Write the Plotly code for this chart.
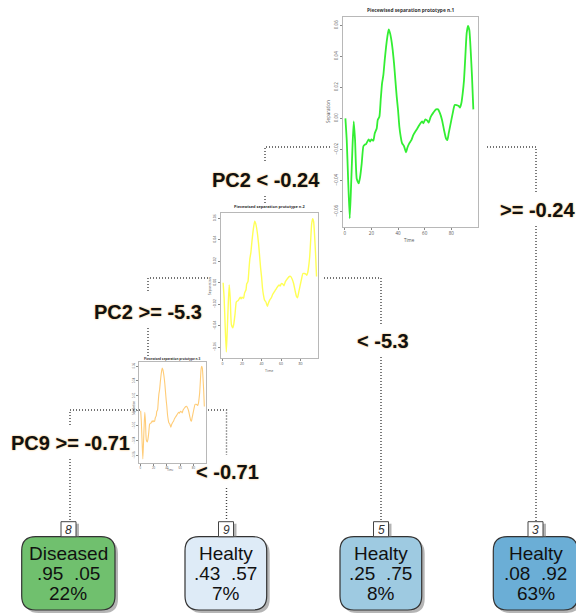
import plotly.graph_objects as go

W, H = 576, 613

# ------------------------------------------------------------------ data
# prototype separation curve (time, separation)
proto_time = [0.5, 1.5, 2.5, 3.75, 4.75, 5.75, 6.75, 7.75, 9, 10.5, 11.5, 12.75, 14, 15, 16,
              17, 18, 19, 20, 21.5, 22.5, 24, 24.75, 26, 27, 28, 29, 30, 31, 32, 33, 34, 35,
              36, 37, 38, 39, 40, 41, 42, 43, 44.5, 46, 47, 48.5, 50, 51.5, 53, 54.5, 56, 57,
              58, 59, 60.5, 62, 63, 64.5, 66.5, 68.5, 70, 71.5, 73, 74.5, 76, 77, 78, 79.5,
              81, 82.5, 84, 85.5, 86.5, 87.5, 88.5, 89.5, 90.5, 91.5, 92.5, 93.5, 94.5, 95.5,
              96.5]
proto_sep = [0.000, -0.014, -0.038, -0.0645, -0.044, -0.020, -0.002, -0.014, -0.039, -0.042,
             -0.038, -0.029, -0.018, -0.017, -0.0166, -0.015, -0.0135, -0.015, -0.0135, -0.0144,
             -0.0097, -0.0065, -0.001, 0.001, 0.012, 0.0226, 0.028, 0.0376, 0.046, 0.0527,
             0.0574, 0.055, 0.0505, 0.044, 0.0355, 0.0247, 0.014, 0.0054, -0.0054, -0.0118,
             -0.016, -0.018, -0.022, -0.019, -0.016, -0.014, -0.0107, -0.0085, -0.0065,
             -0.0043, -0.003, -0.002, -0.0032, -0.0006, -0.0015, -0.0028, 0.001, 0.0037,
             0.0058, 0.0058, 0.0032, -0.001, -0.0075, -0.013, -0.014, -0.0097, -0.0032,
             0.0032, 0.0086, 0.0086, 0.008, 0.007, 0.0097, 0.016, 0.0247, 0.040, 0.055,
             0.0596, 0.057, 0.044, 0.027, 0.0058]
proto_titles = ["Piecewised separation prototype n.1",
                "Piecewised separation prototype n.2",
                "Piecewised separation prototype n.3"]
inset_x_ticks = [0, 20, 40, 60, 80]
inset_y_ticks = [-0.06, -0.04, -0.02, 0.0, 0.02, 0.04, 0.06]

split_labels = ["PC2 < -0.24", ">= -0.24", "PC2 >= -5.3", "< -5.3", "PC9 >= -0.71", "< -0.71"]

leaf_ids = ["8", "9", "5", "3"]
leaf_class = ["Diseased", "Healty", "Healty", "Healty"]
leaf_p_diseased = [".95", ".43", ".25", ".08"]
leaf_p_healty = [".05", ".57", ".75", ".92"]
leaf_share = ["22%", "7%", "8%", "63%"]

# ------------------------------------------------------------------ layout / style
INSET_BOX = [(343, 17, 478, 227), (220.7, 212.5, 318, 358), (139, 362, 206, 463)]
INSET_XRANGE = [[-1.3, 100], [-2, 98], [-2, 99]]
INSET_YRANGE = [[-0.0701, 0.0654], [-0.0701, 0.0654], [-0.0701, 0.0654]]
INSET_COLOR = ["#33ee33", "#ffff55", "#ffcc77"]
INSET_LW = [1.8, 1.4, 1.1]
INSET_FS = [4.5, 3.6, 2.8]
INSET_TITLE_POS = [(410.5, 10), (269.5, 206.5), (172.5, 358.5)]
INSET_XLAB_POS = [(409, 239.5), (269.3, 370), (170, 469.5)]
INSET_YLAB_POS = [(328, 112), (209.5, 286.7), (134, 408)]

CONNECTORS = [
    [(330, 147), (265, 147), (265, 162)], [(265, 196), (265, 205)],
    [(487, 147), (536, 147), (536, 193)], [(536, 226), (536, 521)],
    [(208, 278), (148, 278), (148, 293)], [(148, 328), (148, 357)],
    [(324, 278), (381, 278), (381, 325)], [(381, 357), (381, 521)],
    [(140, 410), (70, 410), (70, 427)], [(70, 459), (70, 521)],
    [(208, 410), (226.5, 410), (226.5, 455)], [(226.5, 488), (226.5, 521)],
]
SPLIT_POS = [(265.5, 180), (537, 210), (148, 312), (382.5, 341), (70, 443), (227, 472)]

LEAF_CX = [68.5, 226, 381, 535.5]
LEAF_X = [(21.7, 115), (185, 266.7), (340, 421.7), (493.3, 577.7)]
LEAF_Y = (536.7, 610)
LEAF_FILL = ["#70c06e", "#deebf7", "#9ecae1", "#6baed6"]
NUM_Y = (521.7, 536.7)

fig = go.Figure()

# connectors (dotted)
cx, cy = [], []
for seg in CONNECTORS:
    for (a, b) in seg:
        cx.append(a)
        cy.append(b)
    cx.append(None)
    cy.append(None)
fig.add_trace(go.Scatter(x=cx, y=cy, mode="lines", xaxis="x", yaxis="y",
                         line=dict(color="#444444", width=1.4, dash="1px,2px"),
                         hoverinfo="skip", showlegend=False))

layout_axes = {}
annotations = []
for i in range(3):
    n = i + 2
    x0, y0, x1, y1 = INSET_BOX[i]
    fig.add_trace(go.Scatter(x=proto_time, y=proto_sep, mode="lines",
                             xaxis=f"x{n}", yaxis=f"y{n}",
                             line=dict(color=INSET_COLOR[i], width=INSET_LW[i],
                                       shape="spline", smoothing=0.5),
                             hoverinfo="skip", showlegend=False))
    layout_axes[f"xaxis{n}"] = dict(domain=[x0 / W, x1 / W], anchor=f"y{n}",
                                    range=INSET_XRANGE[i], tickvals=inset_x_ticks,
                                    ticks="outside", ticklen=2, tickwidth=0.6, tickcolor="#888",
                                    showgrid=False, zeroline=False, showline=True, mirror=True,
                                    linecolor="#b8b8b8", linewidth=1,
                                    tickfont=dict(size=INSET_FS[i], color="#555"))
    layout_axes[f"yaxis{n}"] = dict(domain=[1 - y1 / H, 1 - y0 / H], anchor=f"x{n}",
                                    range=INSET_YRANGE[i], tickvals=inset_y_ticks,
                                    tickformat=".2f", tickangle=-90,
                                    ticks="outside", ticklen=2, tickwidth=0.6, tickcolor="#888",
                                    showgrid=False, zeroline=False, showline=True, mirror=True,
                                    linecolor="#b8b8b8", linewidth=1,
                                    tickfont=dict(size=INSET_FS[i], color="#555"))
    tx, ty = INSET_TITLE_POS[i]
    annotations.append(dict(x=tx, y=ty, xref="x", yref="y", text="<b>" + proto_titles[i] + "</b>",
                            showarrow=False, font=dict(size=INSET_FS[i] + 0.3, color="#333")))
    lx, ly = INSET_XLAB_POS[i]
    annotations.append(dict(x=lx, y=ly, xref="x", yref="y", text="Time", showarrow=False,
                            font=dict(size=INSET_FS[i], color="#555")))
    vx, vy = INSET_YLAB_POS[i]
    annotations.append(dict(x=vx, y=vy, xref="x", yref="y", text="Separation", showarrow=False,
                            textangle=-90, font=dict(size=INSET_FS[i], color="#555")))

# split labels
for lab, (sx, sy) in zip(split_labels, SPLIT_POS):
    annotations.append(dict(x=sx, y=sy, xref="x", yref="y", text="<b>" + lab + "</b>",
                            showarrow=False,
                            font=dict(family="Liberation Sans, Arial, sans-serif", size=20,
                                      color="#111111", shadow="0px 0px 2px #f0b050")))


def rounded(x0, y0, x1, y1, r):
    return (f"M {x0 + r},{y0} L {x1 - r},{y0} Q {x1},{y0} {x1},{y0 + r} "
            f"L {x1},{y1 - r} Q {x1},{y1} {x1 - r},{y1} L {x0 + r},{y1} "
            f"Q {x0},{y1} {x0},{y1 - r} L {x0},{y0 + r} Q {x0},{y0} {x0 + r},{y0} Z")


shapes = []
for k in range(4):
    lx0, lx1 = LEAF_X[k]
    ly0, ly1 = LEAF_Y
    c = LEAF_CX[k]
    # shadow
    shapes.append(dict(type="path", xref="x", yref="y", path=rounded(lx0 + 3, ly0 + 3, lx1 + 3, ly1 + 3, 14),
                       fillcolor="rgba(120,120,120,0.55)", line=dict(width=0), layer="above"))
    shapes.append(dict(type="path", xref="x", yref="y", path=rounded(lx0, ly0, lx1, ly1, 14),
                       fillcolor=LEAF_FILL[k], line=dict(color="#333333", width=1.2), layer="above"))
    # number box
    shapes.append(dict(type="rect", xref="x", yref="y", x0=c - 7.5 + 3, x1=c + 7.5 + 3,
                       y0=NUM_Y[0] + 2, y1=NUM_Y[1], fillcolor="rgba(130,130,130,0.6)",
                       line=dict(width=0), layer="above"))
    shapes.append(dict(type="rect", xref="x", yref="y", x0=c - 7.5, x1=c + 7.5,
                       y0=NUM_Y[0], y1=NUM_Y[1], fillcolor="white",
                       line=dict(color="#444444", width=1), layer="above"))
    annotations.append(dict(x=c, y=(NUM_Y[0] + NUM_Y[1]) / 2 + 0.5, xref="x", yref="y",
                            text="<i>" + leaf_ids[k] + "</i>", showarrow=False,
                            font=dict(family="Liberation Sans, Arial, sans-serif", size=12,
                                      color="#333333")))
    lines = [leaf_class[k], leaf_p_diseased[k] + "\u00a0\u00a0" + leaf_p_healty[k], leaf_share[k]]
    for j, (txt, yy) in enumerate(zip(lines, [553.5, 573.5, 593.5])):
        annotations.append(dict(x=(lx0 + lx1) / 2 if k < 3 else c, y=yy, xref="x", yref="y",
                                text=txt, showarrow=False,
                                font=dict(family="Liberation Sans, Arial, sans-serif", size=19,
                                          color="#111111")))

fig.update_layout(
    width=W, height=H, margin=dict(l=0, r=0, t=0, b=0),
    paper_bgcolor="white", plot_bgcolor="rgba(0,0,0,0)",
    xaxis=dict(domain=[0, 1], range=[0, W], visible=False, fixedrange=True),
    yaxis=dict(domain=[0, 1], range=[H, 0], visible=False, fixedrange=True),
    shapes=shapes, annotations=annotations, showlegend=False,
    **layout_axes,
)

fig.write_html("out.html", config={"displayModeBar": False},
               post_script="document.body.style.margin='0';document.body.style.overflow='hidden';")
